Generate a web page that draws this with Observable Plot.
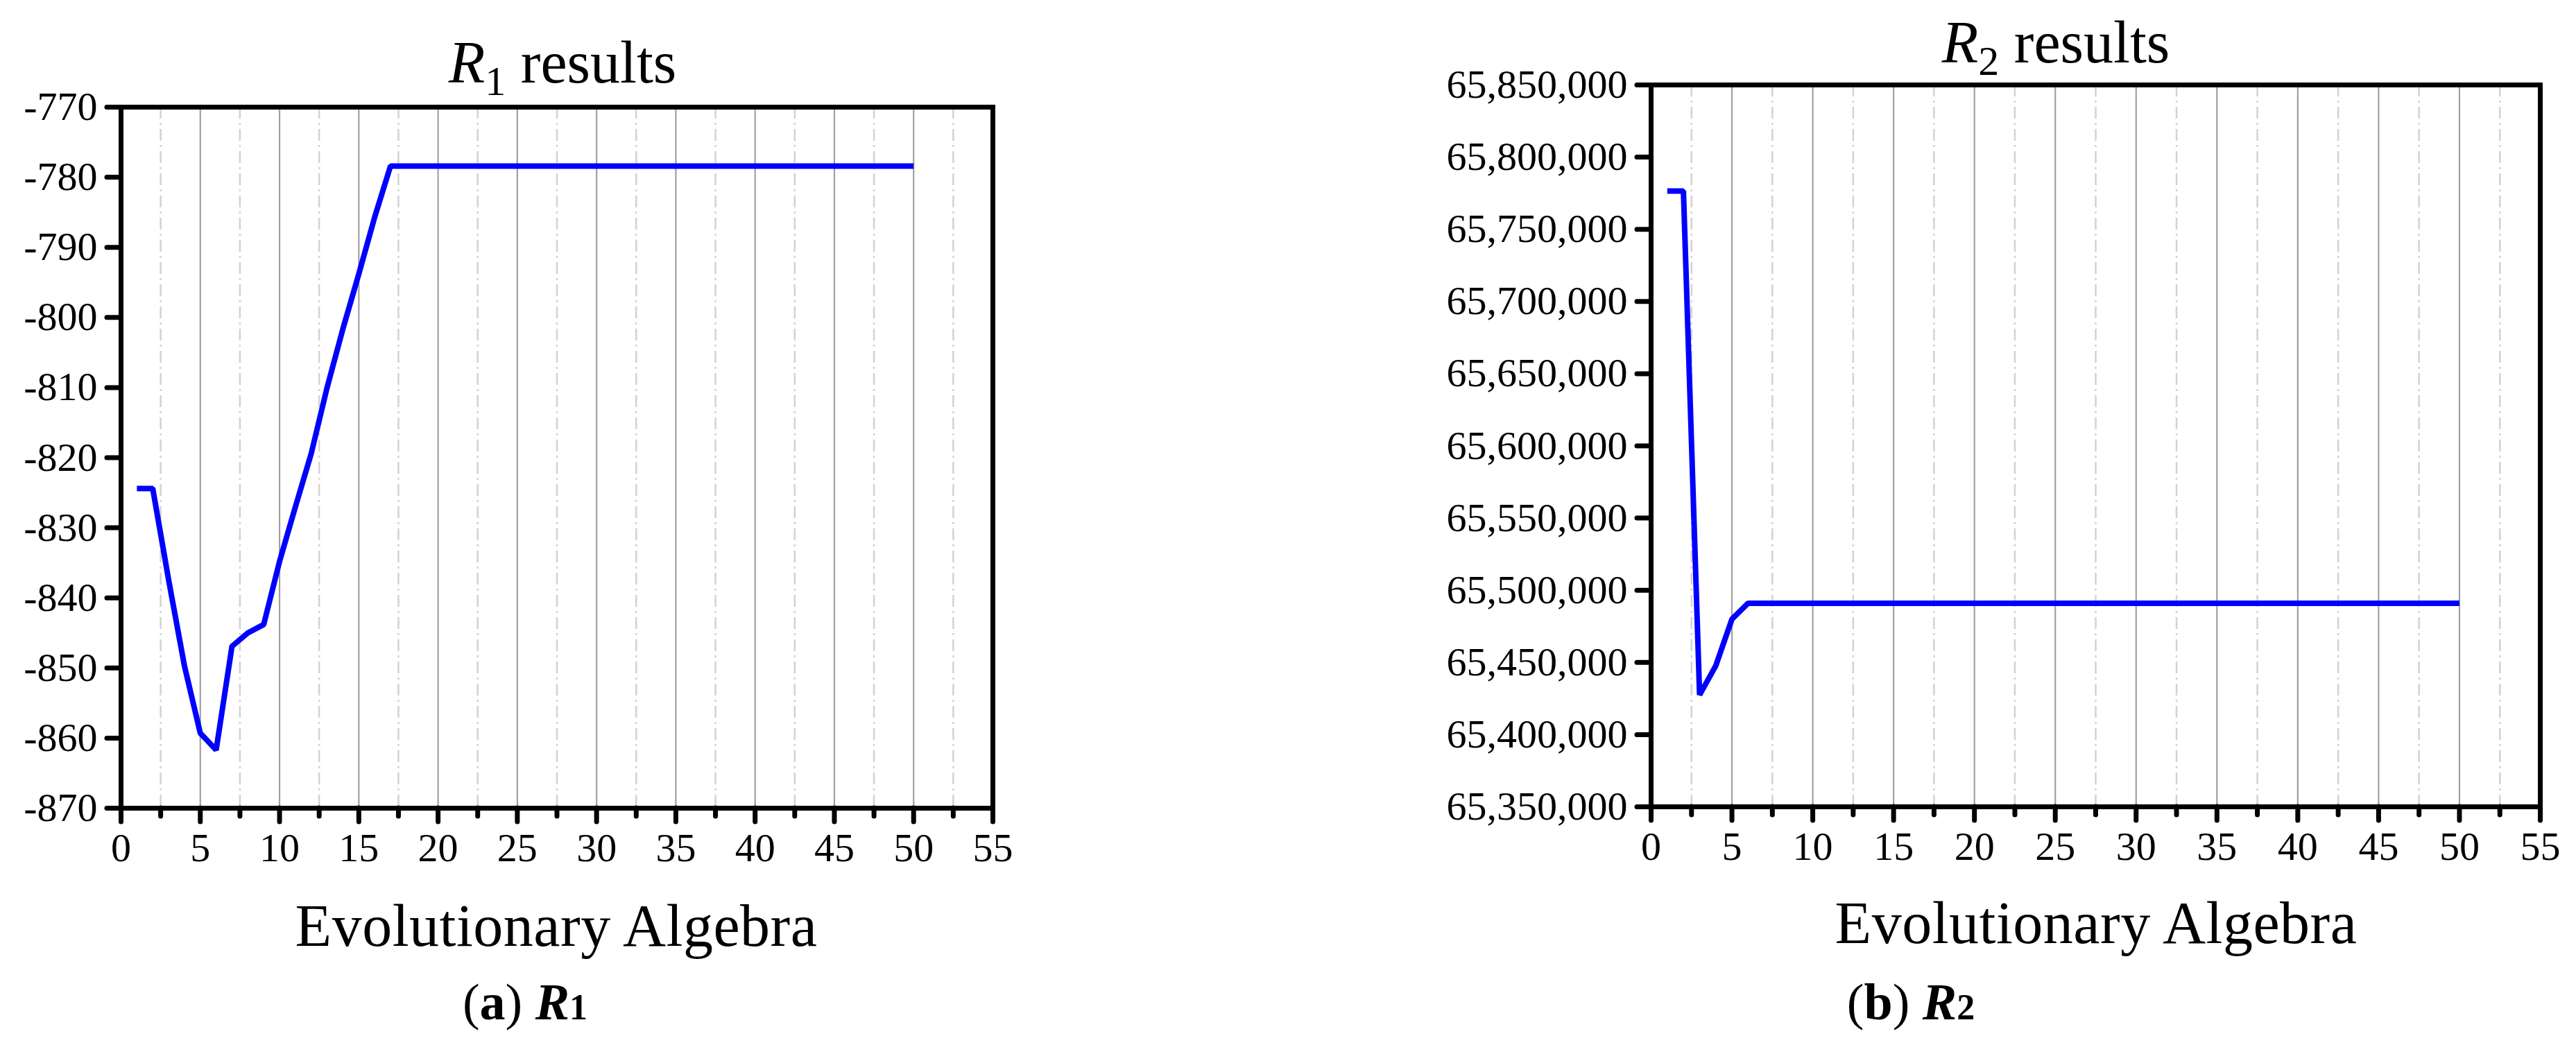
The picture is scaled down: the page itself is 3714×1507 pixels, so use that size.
<!DOCTYPE html>
<html>
<head>
<meta charset="utf-8">
<script src="https://cdn.jsdelivr.net/npm/d3@7"></script>
<script src="https://cdn.jsdelivr.net/npm/@observablehq/plot@0.6"></script>
<style>
  html, body { margin: 0; padding: 0; background: white; }
  #page { position: relative; width: 3714px; height: 1507px; background: white; overflow: hidden; }
  #p1 { position: absolute; left: 0; top: 0; }
  #p2 { position: absolute; left: 2000px; top: 0; }
  #overlay { position: absolute; left: 0; top: 0; }
</style>
</head>
<body>
<div id="page">
  <div id="p1"></div>
  <div id="p2"></div>
  <svg id="overlay" width="3714" height="1507" font-family="Liberation Serif, Times New Roman, serif" fill="black">
    <text x="811" y="119" text-anchor="middle" font-size="86"><tspan font-style="italic">R</tspan><tspan font-size="60" dy="18">1</tspan><tspan dy="-18"> results</tspan></text>
    <text x="2964" y="90" text-anchor="middle" font-size="86"><tspan font-style="italic">R</tspan><tspan font-size="60" dy="18">2</tspan><tspan dy="-18"> results</tspan></text>
    <text x="802" y="1364" text-anchor="middle" font-size="86" letter-spacing="0.5">Evolutionary Algebra</text>
    <text x="3022" y="1360" text-anchor="middle" font-size="86" letter-spacing="0.5">Evolutionary Algebra</text>
    <text x="757" y="1470" text-anchor="middle" font-size="74">(<tspan font-weight="bold">a</tspan>) <tspan font-weight="bold" font-style="italic">R</tspan><tspan font-weight="bold" font-size="52">1</tspan></text>
    <text x="2755" y="1470" text-anchor="middle" font-size="74">(<tspan font-weight="bold">b</tspan>) <tspan font-weight="bold" font-style="italic">R</tspan><tspan font-weight="bold" font-size="52">2</tspan></text>
  </svg>
</div>
<script>
// Evolutionary generation index
const generations = d3.range(1, 51);

// R1 results per generation
const r1Values = [
  -824.4, -824.4, -837.4, -849.7, -859.3, -861.7, -846.9, -845.0, -843.8, -834.8,
  -827.0, -819.4, -810.0, -801.6, -793.8, -785.7, -778.4, -778.4, -778.4, -778.4,
  -778.4, -778.4, -778.4, -778.4, -778.4, -778.4, -778.4, -778.4, -778.4, -778.4,
  -778.4, -778.4, -778.4, -778.4, -778.4, -778.4, -778.4, -778.4, -778.4, -778.4,
  -778.4, -778.4, -778.4, -778.4, -778.4, -778.4, -778.4, -778.4, -778.4, -778.4
];

// R2 results per generation
const r2Values = [
  65776500, 65776500, 65427500, 65447700, 65480000, 65491000, 65491000, 65491000, 65491000, 65491000,
  65491000, 65491000, 65491000, 65491000, 65491000, 65491000, 65491000, 65491000, 65491000, 65491000,
  65491000, 65491000, 65491000, 65491000, 65491000, 65491000, 65491000, 65491000, 65491000, 65491000,
  65491000, 65491000, 65491000, 65491000, 65491000, 65491000, 65491000, 65491000, 65491000, 65491000,
  65491000, 65491000, 65491000, 65491000, 65491000, 65491000, 65491000, 65491000, 65491000, 65491000
];

// Axis ticks
const xTicks = [0, 5, 10, 15, 20, 25, 30, 35, 40, 45, 50, 55];
const xGridMajor = [5, 10, 15, 20, 25, 30, 35, 40, 45, 50];
const xMinor = [2.5, 7.5, 12.5, 17.5, 22.5, 27.5, 32.5, 37.5, 42.5, 47.5, 52.5];
const r1Ticks = [-870, -860, -850, -840, -830, -820, -810, -800, -790, -780, -770];
const r2Ticks = [65350000, 65400000, 65450000, 65500000, 65550000, 65600000, 65650000, 65700000, 65750000, 65800000, 65850000];

function panel(values, yDomain, yTicks, yFormat, opts) {
  const data = generations.map((g, i) => ({g, v: values[i]}));
  return Plot.plot({
    width: opts.width,
    height: 1260,
    marginLeft: opts.marginLeft,
    marginRight: opts.marginRight,
    marginTop: opts.marginTop,
    marginBottom: 1260 - opts.bottom,
    style: {fontFamily: "Liberation Serif, Times New Roman, serif", fontSize: "58px", color: "black", background: "white", overflow: "visible"},
    x: {domain: [0, 55]},
    y: {domain: yDomain},
    marks: [
      Plot.ruleX(xMinor, {stroke: "#d2d2d2", strokeWidth: 2.5, strokeDasharray: "17,6,3,6"}),
      Plot.ruleX(xGridMajor, {stroke: "#a0a0a0", strokeWidth: 2.2}),
      Plot.line(data, {x: "g", y: "v", stroke: "#0000ff", strokeWidth: 8, strokeLinejoin: "miter", strokeLinecap: "butt"}),
      Plot.frame({stroke: "black", strokeWidth: 7}),
      Plot.axisY({ticks: yTicks, tickSize: 20, tickPadding: 14, tickFormat: yFormat, strokeWidth: 7, strokeLinecap: "round", label: null, fontSize: 58}),
      Plot.axisX({ticks: xTicks, tickSize: 20, tickPadding: 15, tickFormat: d => String(d), strokeWidth: 7, strokeLinecap: "round", label: null, fontSize: 58}),
      Plot.axisX({ticks: xMinor, tickSize: 12, tickFormat: () => "", strokeWidth: 7, strokeLinecap: "round", label: null})
    ]
  });
}

document.getElementById("p1").append(
  panel(r1Values, [-870, -770], r1Ticks, d => String(d), {width: 1500, marginLeft: 174, marginRight: 69, marginTop: 154, bottom: 1165})
);
document.getElementById("p2").append(
  panel(r2Values, [65350000, 65850000], r2Ticks, d3.format(","), {width: 1714, marginLeft: 380, marginRight: 52, marginTop: 122, bottom: 1163})
);
</script>
</body>
</html>
